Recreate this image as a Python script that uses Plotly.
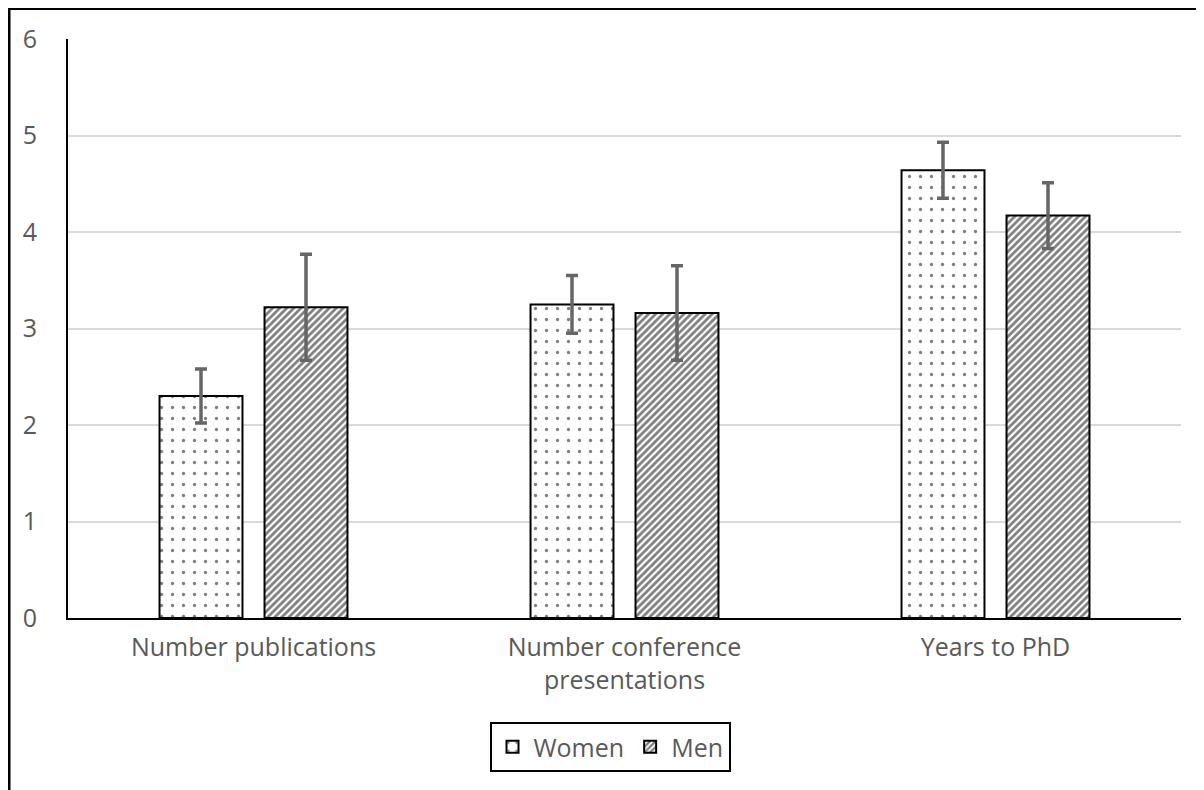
import plotly.graph_objects as go

categories = ["Number publications", "Number conference<br>presentations", "Years to PhD"]
women = [2.30, 3.25, 4.64]
women_err = [0.28, 0.30, 0.29]
men = [3.22, 3.16, 4.17]
men_err = [0.55, 0.49, 0.34]
y_ticks = [0, 1, 2, 3, 4, 5, 6]

OFF = 8  # page body margin
W, H = 1196, 782
L, R, T, B = 60, 23, 31, 172
pw, ph = W - L - R, H - T - B

FONT = "Open Sans"
GRAY = "#595959"

fig = go.Figure()
fig.add_trace(go.Bar(
    name="Women", x=categories, y=women,
    marker=dict(color="white", line=dict(color="black", width=2),
                pattern=dict(shape=".", fgcolor="black", bgcolor="white", size=11, solidity=0.07)),
    error_y=dict(type="data", array=women_err, color="#666666", thickness=3.5, width=6),
))
fig.add_trace(go.Bar(
    name="Men", x=categories, y=men,
    marker=dict(color="white", line=dict(color="black", width=2),
                pattern=dict(shape="/", fgcolor="black", bgcolor="white", size=5, solidity=0.55)),
    error_y=dict(type="data", array=men_err, color="#666666", thickness=3.5, width=6),
))

def px_x(p):
    return (p - OFF - L) / pw

def px_y(p):
    return (H - B - (p - OFF)) / ph

fig.add_shape(type="rect", xref="paper", yref="paper",
              x0=px_x(9), x1=px_x(1230), y0=px_y(820), y1=px_y(8.5),
              line=dict(color="black", width=3), fillcolor="rgba(0,0,0,0)", layer="below")

fig.update_layout(
    width=W, height=H,
    margin=dict(l=L, r=R, t=T, b=B, pad=0),
    paper_bgcolor="white", plot_bgcolor="white",
    barmode="group", bargap=0.434, bargroupgap=0.21,
    font=dict(family=FONT, color=GRAY, size=24),
    showlegend=True,
    legend=dict(orientation="h", x=px_x(610), xanchor="center", y=px_y(722), yanchor="top",
                bordercolor="black", borderwidth=2, font=dict(size=25, color=GRAY),
                traceorder="normal", itemwidth=32),
    xaxis=dict(showline=True, linecolor="black", linewidth=2, showgrid=False,
               ticks="outside", ticklen=6, tickcolor="rgba(0,0,0,0)",
               tickfont=dict(size=25, color=GRAY)),
    yaxis=dict(range=[0, 6], tickvals=y_ticks, showline=True, linecolor="black", linewidth=2,
               showgrid=True, gridcolor="#d9d9d9", gridwidth=1.5, zeroline=False,
               ticks="outside", ticklen=24, tickcolor="rgba(0,0,0,0)",
               tickfont=dict(size=25, color=GRAY)),
)

fig.write_html("out.html")
